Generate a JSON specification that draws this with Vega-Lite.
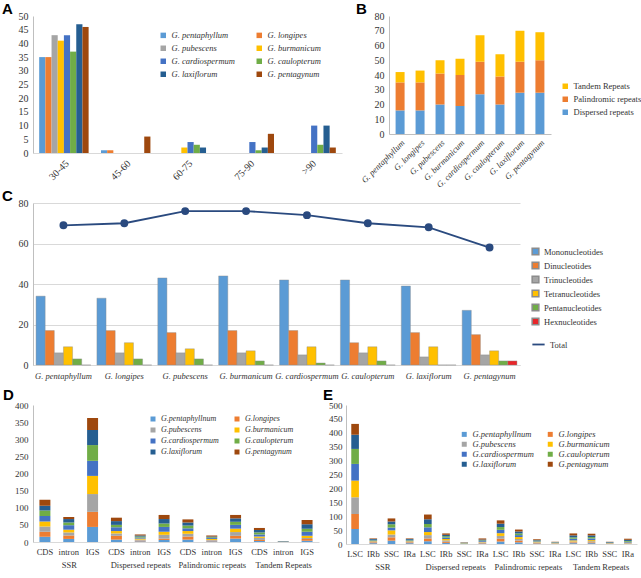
{
"$schema":"https://vega.github.io/schema/vega-lite/v6.json",
"padding":{"left":2,"top":2,"right":0,"bottom":0},
"background":"white",
"config":{
 "view":{"stroke":null},
 "font":"Liberation Serif",
 "axis":{"labelFont":"Liberation Serif","labelFontSize":10,"labelColor":"#333333","domainColor":"#bfbfbf","tickColor":"#bfbfbf","grid":false,"labelOverlap":false},
 "legend":{"labelFont":"Liberation Serif","labelFontSize":8.5,"labelColor":"#333333"},
 "title":{"font":"Liberation Sans","fontSize":15,"fontWeight":"bold","anchor":"start","frame":"bounds","color":"#000000","offset":-6}
},
"datasets":{
 "A":[
  {"r":"30-45","s":"G. pentaphyllum","n":35},{"r":"30-45","s":"G. longipes","n":35},{"r":"30-45","s":"G. pubescens","n":43},{"r":"30-45","s":"G. burmanicum","n":41},{"r":"30-45","s":"G. cardiospermum","n":43},{"r":"30-45","s":"G. caulopterum","n":37},{"r":"30-45","s":"G. laxiflorum","n":47},{"r":"30-45","s":"G. pentagynum","n":46},
  {"r":"45-60","s":"G. pentaphyllum","n":1},{"r":"45-60","s":"G. longipes","n":1},{"r":"45-60","s":"G. pubescens","n":0},{"r":"45-60","s":"G. burmanicum","n":0},{"r":"45-60","s":"G. cardiospermum","n":0},{"r":"45-60","s":"G. caulopterum","n":0},{"r":"45-60","s":"G. laxiflorum","n":0},{"r":"45-60","s":"G. pentagynum","n":6},
  {"r":"60-75","s":"G. pentaphyllum","n":0},{"r":"60-75","s":"G. longipes","n":0},{"r":"60-75","s":"G. pubescens","n":0},{"r":"60-75","s":"G. burmanicum","n":2},{"r":"60-75","s":"G. cardiospermum","n":4},{"r":"60-75","s":"G. caulopterum","n":3},{"r":"60-75","s":"G. laxiflorum","n":2},{"r":"60-75","s":"G. pentagynum","n":0},
  {"r":"75-90","s":"G. pentaphyllum","n":0},{"r":"75-90","s":"G. longipes","n":0},{"r":"75-90","s":"G. pubescens","n":0},{"r":"75-90","s":"G. burmanicum","n":0},{"r":"75-90","s":"G. cardiospermum","n":4},{"r":"75-90","s":"G. caulopterum","n":1},{"r":"75-90","s":"G. laxiflorum","n":2},{"r":"75-90","s":"G. pentagynum","n":7},
  {"r":">90","s":"G. pentaphyllum","n":0},{"r":">90","s":"G. longipes","n":0},{"r":">90","s":"G. pubescens","n":0},{"r":">90","s":"G. burmanicum","n":0},{"r":">90","s":"G. cardiospermum","n":10},{"r":">90","s":"G. caulopterum","n":3},{"r":">90","s":"G. laxiflorum","n":10},{"r":">90","s":"G. pentagynum","n":2}
 ],
 "B":[
  {"s":"G. pentaphyllum","t":"Dispersed repeats","o":1,"n":16},{"s":"G. pentaphyllum","t":"Palindromic repeats","o":2,"n":19},{"s":"G. pentaphyllum","t":"Tandem Repeats","o":3,"n":7},
  {"s":"G. longipes","t":"Dispersed repeats","o":1,"n":16},{"s":"G. longipes","t":"Palindromic repeats","o":2,"n":19},{"s":"G. longipes","t":"Tandem Repeats","o":3,"n":8},
  {"s":"G. pubescens","t":"Dispersed repeats","o":1,"n":20},{"s":"G. pubescens","t":"Palindromic repeats","o":2,"n":21},{"s":"G. pubescens","t":"Tandem Repeats","o":3,"n":9},
  {"s":"G. burmanicum","t":"Dispersed repeats","o":1,"n":19},{"s":"G. burmanicum","t":"Palindromic repeats","o":2,"n":21},{"s":"G. burmanicum","t":"Tandem Repeats","o":3,"n":11},
  {"s":"G. cardiospermum","t":"Dispersed repeats","o":1,"n":27},{"s":"G. cardiospermum","t":"Palindromic repeats","o":2,"n":22},{"s":"G. cardiospermum","t":"Tandem Repeats","o":3,"n":18},
  {"s":"G. caulopterum","t":"Dispersed repeats","o":1,"n":20},{"s":"G. caulopterum","t":"Palindromic repeats","o":2,"n":19},{"s":"G. caulopterum","t":"Tandem Repeats","o":3,"n":15},
  {"s":"G. laxiflorum","t":"Dispersed repeats","o":1,"n":28},{"s":"G. laxiflorum","t":"Palindromic repeats","o":2,"n":21},{"s":"G. laxiflorum","t":"Tandem Repeats","o":3,"n":21},
  {"s":"G. pentagynum","t":"Dispersed repeats","o":1,"n":28},{"s":"G. pentagynum","t":"Palindromic repeats","o":2,"n":22},{"s":"G. pentagynum","t":"Tandem Repeats","o":3,"n":19}
 ],
 "C":[
  {"s":"G. pentaphyllum","m":"Mononucleotides","n":34},{"s":"G. pentaphyllum","m":"Dinucleotides","n":17},{"s":"G. pentaphyllum","m":"Trinucleotides","n":6},{"s":"G. pentaphyllum","m":"Tetranucleotides","n":9},{"s":"G. pentaphyllum","m":"Pentanucleotides","n":3},{"s":"G. pentaphyllum","m":"Hexnucleotides","n":0},
  {"s":"G. longipes","m":"Mononucleotides","n":33},{"s":"G. longipes","m":"Dinucleotides","n":17},{"s":"G. longipes","m":"Trinucleotides","n":6},{"s":"G. longipes","m":"Tetranucleotides","n":11},{"s":"G. longipes","m":"Pentanucleotides","n":3},{"s":"G. longipes","m":"Hexnucleotides","n":0},
  {"s":"G. pubescens","m":"Mononucleotides","n":43},{"s":"G. pubescens","m":"Dinucleotides","n":16},{"s":"G. pubescens","m":"Trinucleotides","n":6},{"s":"G. pubescens","m":"Tetranucleotides","n":8},{"s":"G. pubescens","m":"Pentanucleotides","n":3},{"s":"G. pubescens","m":"Hexnucleotides","n":0},
  {"s":"G. burmanicum","m":"Mononucleotides","n":44},{"s":"G. burmanicum","m":"Dinucleotides","n":17},{"s":"G. burmanicum","m":"Trinucleotides","n":6},{"s":"G. burmanicum","m":"Tetranucleotides","n":7},{"s":"G. burmanicum","m":"Pentanucleotides","n":2},{"s":"G. burmanicum","m":"Hexnucleotides","n":0},
  {"s":"G. cardiospermum","m":"Mononucleotides","n":42},{"s":"G. cardiospermum","m":"Dinucleotides","n":17},{"s":"G. cardiospermum","m":"Trinucleotides","n":5},{"s":"G. cardiospermum","m":"Tetranucleotides","n":9},{"s":"G. cardiospermum","m":"Pentanucleotides","n":1},{"s":"G. cardiospermum","m":"Hexnucleotides","n":0},
  {"s":"G. caulopterum","m":"Mononucleotides","n":42},{"s":"G. caulopterum","m":"Dinucleotides","n":11},{"s":"G. caulopterum","m":"Trinucleotides","n":6},{"s":"G. caulopterum","m":"Tetranucleotides","n":9},{"s":"G. caulopterum","m":"Pentanucleotides","n":2},{"s":"G. caulopterum","m":"Hexnucleotides","n":0},
  {"s":"G. laxiflorum","m":"Mononucleotides","n":39},{"s":"G. laxiflorum","m":"Dinucleotides","n":16},{"s":"G. laxiflorum","m":"Trinucleotides","n":4},{"s":"G. laxiflorum","m":"Tetranucleotides","n":9},{"s":"G. laxiflorum","m":"Pentanucleotides","n":0},{"s":"G. laxiflorum","m":"Hexnucleotides","n":0},
  {"s":"G. pentagynum","m":"Mononucleotides","n":27},{"s":"G. pentagynum","m":"Dinucleotides","n":15},{"s":"G. pentagynum","m":"Trinucleotides","n":5},{"s":"G. pentagynum","m":"Tetranucleotides","n":7},{"s":"G. pentagynum","m":"Pentanucleotides","n":2},{"s":"G. pentagynum","m":"Hexnucleotides","n":2}
 ],
 "CT":[
  {"s":"G. pentaphyllum","series":"Total","total":69},{"s":"G. longipes","series":"Total","total":70},{"s":"G. pubescens","series":"Total","total":76},{"s":"G. burmanicum","series":"Total","total":76},{"s":"G. cardiospermum","series":"Total","total":74},{"s":"G. caulopterum","series":"Total","total":70},{"s":"G. laxiflorum","series":"Total","total":68},{"s":"G. pentagynum","series":"Total","total":58}
 ],
 "D":[
  {"g":"SSR","k":"SSR|CDS","s":"G.pentaphyllnum","o":1,"n":15},{"g":"SSR","k":"SSR|CDS","s":"G.longipes","o":2,"n":15},{"g":"SSR","k":"SSR|CDS","s":"G.pubescens","o":3,"n":15},{"g":"SSR","k":"SSR|CDS","s":"G.burmanicum","o":4,"n":15},{"g":"SSR","k":"SSR|CDS","s":"G.cardiospermum","o":5,"n":16},{"g":"SSR","k":"SSR|CDS","s":"G.caulopterum","o":6,"n":16},{"g":"SSR","k":"SSR|CDS","s":"G.laxiflorum","o":7,"n":14},{"g":"SSR","k":"SSR|CDS","s":"G.pentagynum","o":8,"n":17},
  {"g":"SSR","k":"SSR|intron","s":"G.pentaphyllnum","o":1,"n":9},{"g":"SSR","k":"SSR|intron","s":"G.longipes","o":2,"n":10},{"g":"SSR","k":"SSR|intron","s":"G.pubescens","o":3,"n":9},{"g":"SSR","k":"SSR|intron","s":"G.burmanicum","o":4,"n":8},{"g":"SSR","k":"SSR|intron","s":"G.cardiospermum","o":5,"n":13},{"g":"SSR","k":"SSR|intron","s":"G.caulopterum","o":6,"n":8},{"g":"SSR","k":"SSR|intron","s":"G.laxiflorum","o":7,"n":10},{"g":"SSR","k":"SSR|intron","s":"G.pentagynum","o":8,"n":6},
  {"g":"SSR","k":"SSR|IGS","s":"G.pentaphyllnum","o":1,"n":44},{"g":"SSR","k":"SSR|IGS","s":"G.longipes","o":2,"n":44},{"g":"SSR","k":"SSR|IGS","s":"G.pubescens","o":3,"n":52},{"g":"SSR","k":"SSR|IGS","s":"G.burmanicum","o":4,"n":53},{"g":"SSR","k":"SSR|IGS","s":"G.cardiospermum","o":5,"n":44},{"g":"SSR","k":"SSR|IGS","s":"G.caulopterum","o":6,"n":46},{"g":"SSR","k":"SSR|IGS","s":"G.laxiflorum","o":7,"n":44},{"g":"SSR","k":"SSR|IGS","s":"G.pentagynum","o":8,"n":35},
  {"g":"Dispersed repeats","k":"Dispersed repeats|CDS","s":"G.pentaphyllnum","o":1,"n":7},{"g":"Dispersed repeats","k":"Dispersed repeats|CDS","s":"G.longipes","o":2,"n":11},{"g":"Dispersed repeats","k":"Dispersed repeats|CDS","s":"G.pubescens","o":3,"n":7},{"g":"Dispersed repeats","k":"Dispersed repeats|CDS","s":"G.burmanicum","o":4,"n":7},{"g":"Dispersed repeats","k":"Dispersed repeats|CDS","s":"G.cardiospermum","o":5,"n":11},{"g":"Dispersed repeats","k":"Dispersed repeats|CDS","s":"G.caulopterum","o":6,"n":7},{"g":"Dispersed repeats","k":"Dispersed repeats|CDS","s":"G.laxiflorum","o":7,"n":11},{"g":"Dispersed repeats","k":"Dispersed repeats|CDS","s":"G.pentagynum","o":8,"n":10},
  {"g":"Dispersed repeats","k":"Dispersed repeats|intron","s":"G.pentaphyllnum","o":1,"n":2},{"g":"Dispersed repeats","k":"Dispersed repeats|intron","s":"G.longipes","o":2,"n":2},{"g":"Dispersed repeats","k":"Dispersed repeats|intron","s":"G.pubescens","o":3,"n":3},{"g":"Dispersed repeats","k":"Dispersed repeats|intron","s":"G.burmanicum","o":4,"n":3},{"g":"Dispersed repeats","k":"Dispersed repeats|intron","s":"G.cardiospermum","o":5,"n":3},{"g":"Dispersed repeats","k":"Dispersed repeats|intron","s":"G.caulopterum","o":6,"n":3},{"g":"Dispersed repeats","k":"Dispersed repeats|intron","s":"G.laxiflorum","o":7,"n":3},{"g":"Dispersed repeats","k":"Dispersed repeats|intron","s":"G.pentagynum","o":8,"n":3},
  {"g":"Dispersed repeats","k":"Dispersed repeats|IGS","s":"G.pentaphyllnum","o":1,"n":6},{"g":"Dispersed repeats","k":"Dispersed repeats|IGS","s":"G.longipes","o":2,"n":4},{"g":"Dispersed repeats","k":"Dispersed repeats|IGS","s":"G.pubescens","o":3,"n":11},{"g":"Dispersed repeats","k":"Dispersed repeats|IGS","s":"G.burmanicum","o":4,"n":9},{"g":"Dispersed repeats","k":"Dispersed repeats|IGS","s":"G.cardiospermum","o":5,"n":14},{"g":"Dispersed repeats","k":"Dispersed repeats|IGS","s":"G.caulopterum","o":6,"n":10},{"g":"Dispersed repeats","k":"Dispersed repeats|IGS","s":"G.laxiflorum","o":7,"n":13},{"g":"Dispersed repeats","k":"Dispersed repeats|IGS","s":"G.pentagynum","o":8,"n":12},
  {"g":"Palindromic repeats","k":"Palindromic repeats|CDS","s":"G.pentaphyllnum","o":1,"n":7},{"g":"Palindromic repeats","k":"Palindromic repeats|CDS","s":"G.longipes","o":2,"n":9},{"g":"Palindromic repeats","k":"Palindromic repeats|CDS","s":"G.pubescens","o":3,"n":8},{"g":"Palindromic repeats","k":"Palindromic repeats|CDS","s":"G.burmanicum","o":4,"n":8},{"g":"Palindromic repeats","k":"Palindromic repeats|CDS","s":"G.cardiospermum","o":5,"n":8},{"g":"Palindromic repeats","k":"Palindromic repeats|CDS","s":"G.caulopterum","o":6,"n":8},{"g":"Palindromic repeats","k":"Palindromic repeats|CDS","s":"G.laxiflorum","o":7,"n":9},{"g":"Palindromic repeats","k":"Palindromic repeats|CDS","s":"G.pentagynum","o":8,"n":9},
  {"g":"Palindromic repeats","k":"Palindromic repeats|intron","s":"G.pentaphyllnum","o":1,"n":2},{"g":"Palindromic repeats","k":"Palindromic repeats|intron","s":"G.longipes","o":2,"n":2},{"g":"Palindromic repeats","k":"Palindromic repeats|intron","s":"G.pubescens","o":3,"n":2},{"g":"Palindromic repeats","k":"Palindromic repeats|intron","s":"G.burmanicum","o":4,"n":3},{"g":"Palindromic repeats","k":"Palindromic repeats|intron","s":"G.cardiospermum","o":5,"n":3},{"g":"Palindromic repeats","k":"Palindromic repeats|intron","s":"G.caulopterum","o":6,"n":2},{"g":"Palindromic repeats","k":"Palindromic repeats|intron","s":"G.laxiflorum","o":7,"n":2},{"g":"Palindromic repeats","k":"Palindromic repeats|intron","s":"G.pentagynum","o":8,"n":3},
  {"g":"Palindromic repeats","k":"Palindromic repeats|IGS","s":"G.pentaphyllnum","o":1,"n":10},{"g":"Palindromic repeats","k":"Palindromic repeats|IGS","s":"G.longipes","o":2,"n":8},{"g":"Palindromic repeats","k":"Palindromic repeats|IGS","s":"G.pubescens","o":3,"n":11},{"g":"Palindromic repeats","k":"Palindromic repeats|IGS","s":"G.burmanicum","o":4,"n":10},{"g":"Palindromic repeats","k":"Palindromic repeats|IGS","s":"G.cardiospermum","o":5,"n":11},{"g":"Palindromic repeats","k":"Palindromic repeats|IGS","s":"G.caulopterum","o":6,"n":9},{"g":"Palindromic repeats","k":"Palindromic repeats|IGS","s":"G.laxiflorum","o":7,"n":10},{"g":"Palindromic repeats","k":"Palindromic repeats|IGS","s":"G.pentagynum","o":8,"n":10},
  {"g":"Tandem Repeats","k":"Tandem Repeats|CDS","s":"G.pentaphyllnum","o":1,"n":3},{"g":"Tandem Repeats","k":"Tandem Repeats|CDS","s":"G.longipes","o":2,"n":3},{"g":"Tandem Repeats","k":"Tandem Repeats|CDS","s":"G.pubescens","o":3,"n":6},{"g":"Tandem Repeats","k":"Tandem Repeats|CDS","s":"G.burmanicum","o":4,"n":4},{"g":"Tandem Repeats","k":"Tandem Repeats|CDS","s":"G.cardiospermum","o":5,"n":6},{"g":"Tandem Repeats","k":"Tandem Repeats|CDS","s":"G.caulopterum","o":6,"n":6},{"g":"Tandem Repeats","k":"Tandem Repeats|CDS","s":"G.laxiflorum","o":7,"n":7},{"g":"Tandem Repeats","k":"Tandem Repeats|CDS","s":"G.pentagynum","o":8,"n":6},
  {"g":"Tandem Repeats","k":"Tandem Repeats|intron","s":"G.pentaphyllnum","o":1,"n":0},{"g":"Tandem Repeats","k":"Tandem Repeats|intron","s":"G.longipes","o":2,"n":0},{"g":"Tandem Repeats","k":"Tandem Repeats|intron","s":"G.pubescens","o":3,"n":0},{"g":"Tandem Repeats","k":"Tandem Repeats|intron","s":"G.burmanicum","o":4,"n":1},{"g":"Tandem Repeats","k":"Tandem Repeats|intron","s":"G.cardiospermum","o":5,"n":1},{"g":"Tandem Repeats","k":"Tandem Repeats|intron","s":"G.caulopterum","o":6,"n":0},{"g":"Tandem Repeats","k":"Tandem Repeats|intron","s":"G.laxiflorum","o":7,"n":1},{"g":"Tandem Repeats","k":"Tandem Repeats|intron","s":"G.pentagynum","o":8,"n":0},
  {"g":"Tandem Repeats","k":"Tandem Repeats|IGS","s":"G.pentaphyllnum","o":1,"n":4},{"g":"Tandem Repeats","k":"Tandem Repeats|IGS","s":"G.longipes","o":2,"n":5},{"g":"Tandem Repeats","k":"Tandem Repeats|IGS","s":"G.pubescens","o":3,"n":3},{"g":"Tandem Repeats","k":"Tandem Repeats|IGS","s":"G.burmanicum","o":4,"n":6},{"g":"Tandem Repeats","k":"Tandem Repeats|IGS","s":"G.cardiospermum","o":5,"n":12},{"g":"Tandem Repeats","k":"Tandem Repeats|IGS","s":"G.caulopterum","o":6,"n":9},{"g":"Tandem Repeats","k":"Tandem Repeats|IGS","s":"G.laxiflorum","o":7,"n":13},{"g":"Tandem Repeats","k":"Tandem Repeats|IGS","s":"G.pentagynum","o":8,"n":12}
 ],
 "E":[
  {"g":"SSR","k":"SSR|LSC","s":"G.pentaphyllnum","o":1,"n":54},{"g":"SSR","k":"SSR|LSC","s":"G.longipes","o":2,"n":54},{"g":"SSR","k":"SSR|LSC","s":"G.pubescens","o":3,"n":60},{"g":"SSR","k":"SSR|LSC","s":"G.burmanicum","o":4,"n":60},{"g":"SSR","k":"SSR|LSC","s":"G.cardiospermum","o":5,"n":60},{"g":"SSR","k":"SSR|LSC","s":"G.caulopterum","o":6,"n":54},{"g":"SSR","k":"SSR|LSC","s":"G.laxiflorum","o":7,"n":51},{"g":"SSR","k":"SSR|LSC","s":"G.pentagynum","o":8,"n":39},
  {"g":"SSR","k":"SSR|IRb","s":"G.pentaphyllnum","o":1,"n":3},{"g":"SSR","k":"SSR|IRb","s":"G.longipes","o":2,"n":3},{"g":"SSR","k":"SSR|IRb","s":"G.pubescens","o":3,"n":2},{"g":"SSR","k":"SSR|IRb","s":"G.burmanicum","o":4,"n":2},{"g":"SSR","k":"SSR|IRb","s":"G.cardiospermum","o":5,"n":3},{"g":"SSR","k":"SSR|IRb","s":"G.caulopterum","o":6,"n":2},{"g":"SSR","k":"SSR|IRb","s":"G.laxiflorum","o":7,"n":3},{"g":"SSR","k":"SSR|IRb","s":"G.pentagynum","o":8,"n":2},
  {"g":"SSR","k":"SSR|SSC","s":"G.pentaphyllnum","o":1,"n":12},{"g":"SSR","k":"SSR|SSC","s":"G.longipes","o":2,"n":12},{"g":"SSR","k":"SSR|SSC","s":"G.pubescens","o":3,"n":10},{"g":"SSR","k":"SSR|SSC","s":"G.burmanicum","o":4,"n":15},{"g":"SSR","k":"SSR|SSC","s":"G.cardiospermum","o":5,"n":10},{"g":"SSR","k":"SSR|SSC","s":"G.caulopterum","o":6,"n":12},{"g":"SSR","k":"SSR|SSC","s":"G.laxiflorum","o":7,"n":10},{"g":"SSR","k":"SSR|SSC","s":"G.pentagynum","o":8,"n":11},
  {"g":"SSR","k":"SSR|IRa","s":"G.pentaphyllnum","o":1,"n":3},{"g":"SSR","k":"SSR|IRa","s":"G.longipes","o":2,"n":3},{"g":"SSR","k":"SSR|IRa","s":"G.pubescens","o":3,"n":2},{"g":"SSR","k":"SSR|IRa","s":"G.burmanicum","o":4,"n":2},{"g":"SSR","k":"SSR|IRa","s":"G.cardiospermum","o":5,"n":3},{"g":"SSR","k":"SSR|IRa","s":"G.caulopterum","o":6,"n":2},{"g":"SSR","k":"SSR|IRa","s":"G.laxiflorum","o":7,"n":3},{"g":"SSR","k":"SSR|IRa","s":"G.pentagynum","o":8,"n":2},
  {"g":"Dispersed repeats","k":"Dispersed repeats|LSC","s":"G.pentaphyllnum","o":1,"n":10},{"g":"Dispersed repeats","k":"Dispersed repeats|LSC","s":"G.longipes","o":2,"n":10},{"g":"Dispersed repeats","k":"Dispersed repeats|LSC","s":"G.pubescens","o":3,"n":12},{"g":"Dispersed repeats","k":"Dispersed repeats|LSC","s":"G.burmanicum","o":4,"n":11},{"g":"Dispersed repeats","k":"Dispersed repeats|LSC","s":"G.cardiospermum","o":5,"n":17},{"g":"Dispersed repeats","k":"Dispersed repeats|LSC","s":"G.caulopterum","o":6,"n":12},{"g":"Dispersed repeats","k":"Dispersed repeats|LSC","s":"G.laxiflorum","o":7,"n":17},{"g":"Dispersed repeats","k":"Dispersed repeats|LSC","s":"G.pentagynum","o":8,"n":17},
  {"g":"Dispersed repeats","k":"Dispersed repeats|IRb","s":"G.pentaphyllnum","o":1,"n":4},{"g":"Dispersed repeats","k":"Dispersed repeats|IRb","s":"G.longipes","o":2,"n":4},{"g":"Dispersed repeats","k":"Dispersed repeats|IRb","s":"G.pubescens","o":3,"n":5},{"g":"Dispersed repeats","k":"Dispersed repeats|IRb","s":"G.burmanicum","o":4,"n":5},{"g":"Dispersed repeats","k":"Dispersed repeats|IRb","s":"G.cardiospermum","o":5,"n":5},{"g":"Dispersed repeats","k":"Dispersed repeats|IRb","s":"G.caulopterum","o":6,"n":5},{"g":"Dispersed repeats","k":"Dispersed repeats|IRb","s":"G.laxiflorum","o":7,"n":5},{"g":"Dispersed repeats","k":"Dispersed repeats|IRb","s":"G.pentagynum","o":8,"n":5},
  {"g":"Dispersed repeats","k":"Dispersed repeats|SSC","s":"G.pentaphyllnum","o":1,"n":0},{"g":"Dispersed repeats","k":"Dispersed repeats|SSC","s":"G.longipes","o":2,"n":0},{"g":"Dispersed repeats","k":"Dispersed repeats|SSC","s":"G.pubescens","o":3,"n":1},{"g":"Dispersed repeats","k":"Dispersed repeats|SSC","s":"G.burmanicum","o":4,"n":1},{"g":"Dispersed repeats","k":"Dispersed repeats|SSC","s":"G.cardiospermum","o":5,"n":1},{"g":"Dispersed repeats","k":"Dispersed repeats|SSC","s":"G.caulopterum","o":6,"n":1},{"g":"Dispersed repeats","k":"Dispersed repeats|SSC","s":"G.laxiflorum","o":7,"n":1},{"g":"Dispersed repeats","k":"Dispersed repeats|SSC","s":"G.pentagynum","o":8,"n":1},
  {"g":"Dispersed repeats","k":"Dispersed repeats|IRa","s":"G.pentaphyllnum","o":1,"n":2},{"g":"Dispersed repeats","k":"Dispersed repeats|IRa","s":"G.longipes","o":2,"n":2},{"g":"Dispersed repeats","k":"Dispersed repeats|IRa","s":"G.pubescens","o":3,"n":2},{"g":"Dispersed repeats","k":"Dispersed repeats|IRa","s":"G.burmanicum","o":4,"n":2},{"g":"Dispersed repeats","k":"Dispersed repeats|IRa","s":"G.cardiospermum","o":5,"n":3},{"g":"Dispersed repeats","k":"Dispersed repeats|IRa","s":"G.caulopterum","o":6,"n":2},{"g":"Dispersed repeats","k":"Dispersed repeats|IRa","s":"G.laxiflorum","o":7,"n":3},{"g":"Dispersed repeats","k":"Dispersed repeats|IRa","s":"G.pentagynum","o":8,"n":4},
  {"g":"Palindromic repeats","k":"Palindromic repeats|LSC","s":"G.pentaphyllnum","o":1,"n":9},{"g":"Palindromic repeats","k":"Palindromic repeats|LSC","s":"G.longipes","o":2,"n":10},{"g":"Palindromic repeats","k":"Palindromic repeats|LSC","s":"G.pubescens","o":3,"n":10},{"g":"Palindromic repeats","k":"Palindromic repeats|LSC","s":"G.burmanicum","o":4,"n":10},{"g":"Palindromic repeats","k":"Palindromic repeats|LSC","s":"G.cardiospermum","o":5,"n":12},{"g":"Palindromic repeats","k":"Palindromic repeats|LSC","s":"G.caulopterum","o":6,"n":10},{"g":"Palindromic repeats","k":"Palindromic repeats|LSC","s":"G.laxiflorum","o":7,"n":12},{"g":"Palindromic repeats","k":"Palindromic repeats|LSC","s":"G.pentagynum","o":8,"n":12},
  {"g":"Palindromic repeats","k":"Palindromic repeats|IRb","s":"G.pentaphyllnum","o":1,"n":6},{"g":"Palindromic repeats","k":"Palindromic repeats|IRb","s":"G.longipes","o":2,"n":6},{"g":"Palindromic repeats","k":"Palindromic repeats|IRb","s":"G.pubescens","o":3,"n":6},{"g":"Palindromic repeats","k":"Palindromic repeats|IRb","s":"G.burmanicum","o":4,"n":7},{"g":"Palindromic repeats","k":"Palindromic repeats|IRb","s":"G.cardiospermum","o":5,"n":7},{"g":"Palindromic repeats","k":"Palindromic repeats|IRb","s":"G.caulopterum","o":6,"n":6},{"g":"Palindromic repeats","k":"Palindromic repeats|IRb","s":"G.laxiflorum","o":7,"n":7},{"g":"Palindromic repeats","k":"Palindromic repeats|IRb","s":"G.pentagynum","o":8,"n":7},
  {"g":"Palindromic repeats","k":"Palindromic repeats|SSC","s":"G.pentaphyllnum","o":1,"n":2},{"g":"Palindromic repeats","k":"Palindromic repeats|SSC","s":"G.longipes","o":2,"n":2},{"g":"Palindromic repeats","k":"Palindromic repeats|SSC","s":"G.pubescens","o":3,"n":2},{"g":"Palindromic repeats","k":"Palindromic repeats|SSC","s":"G.burmanicum","o":4,"n":2},{"g":"Palindromic repeats","k":"Palindromic repeats|SSC","s":"G.cardiospermum","o":5,"n":2},{"g":"Palindromic repeats","k":"Palindromic repeats|SSC","s":"G.caulopterum","o":6,"n":2},{"g":"Palindromic repeats","k":"Palindromic repeats|SSC","s":"G.laxiflorum","o":7,"n":2},{"g":"Palindromic repeats","k":"Palindromic repeats|SSC","s":"G.pentagynum","o":8,"n":3},
  {"g":"Palindromic repeats","k":"Palindromic repeats|IRa","s":"G.pentaphyllnum","o":1,"n":1},{"g":"Palindromic repeats","k":"Palindromic repeats|IRa","s":"G.longipes","o":2,"n":1},{"g":"Palindromic repeats","k":"Palindromic repeats|IRa","s":"G.pubescens","o":3,"n":1},{"g":"Palindromic repeats","k":"Palindromic repeats|IRa","s":"G.burmanicum","o":4,"n":1},{"g":"Palindromic repeats","k":"Palindromic repeats|IRa","s":"G.cardiospermum","o":5,"n":1},{"g":"Palindromic repeats","k":"Palindromic repeats|IRa","s":"G.caulopterum","o":6,"n":1},{"g":"Palindromic repeats","k":"Palindromic repeats|IRa","s":"G.laxiflorum","o":7,"n":1},{"g":"Palindromic repeats","k":"Palindromic repeats|IRa","s":"G.pentagynum","o":8,"n":1},
  {"g":"Tandem Repeats","k":"Tandem Repeats|LSC","s":"G.pentaphyllnum","o":1,"n":3},{"g":"Tandem Repeats","k":"Tandem Repeats|LSC","s":"G.longipes","o":2,"n":3},{"g":"Tandem Repeats","k":"Tandem Repeats|LSC","s":"G.pubescens","o":3,"n":3},{"g":"Tandem Repeats","k":"Tandem Repeats|LSC","s":"G.burmanicum","o":4,"n":4},{"g":"Tandem Repeats","k":"Tandem Repeats|LSC","s":"G.cardiospermum","o":5,"n":6},{"g":"Tandem Repeats","k":"Tandem Repeats|LSC","s":"G.caulopterum","o":6,"n":5},{"g":"Tandem Repeats","k":"Tandem Repeats|LSC","s":"G.laxiflorum","o":7,"n":7},{"g":"Tandem Repeats","k":"Tandem Repeats|LSC","s":"G.pentagynum","o":8,"n":7},
  {"g":"Tandem Repeats","k":"Tandem Repeats|IRb","s":"G.pentaphyllnum","o":1,"n":3},{"g":"Tandem Repeats","k":"Tandem Repeats|IRb","s":"G.longipes","o":2,"n":3},{"g":"Tandem Repeats","k":"Tandem Repeats|IRb","s":"G.pubescens","o":3,"n":4},{"g":"Tandem Repeats","k":"Tandem Repeats|IRb","s":"G.burmanicum","o":4,"n":4},{"g":"Tandem Repeats","k":"Tandem Repeats|IRb","s":"G.cardiospermum","o":5,"n":6},{"g":"Tandem Repeats","k":"Tandem Repeats|IRb","s":"G.caulopterum","o":6,"n":5},{"g":"Tandem Repeats","k":"Tandem Repeats|IRb","s":"G.laxiflorum","o":7,"n":6},{"g":"Tandem Repeats","k":"Tandem Repeats|IRb","s":"G.pentagynum","o":8,"n":6},
  {"g":"Tandem Repeats","k":"Tandem Repeats|SSC","s":"G.pentaphyllnum","o":1,"n":0},{"g":"Tandem Repeats","k":"Tandem Repeats|SSC","s":"G.longipes","o":2,"n":1},{"g":"Tandem Repeats","k":"Tandem Repeats|SSC","s":"G.pubescens","o":3,"n":1},{"g":"Tandem Repeats","k":"Tandem Repeats|SSC","s":"G.burmanicum","o":4,"n":1},{"g":"Tandem Repeats","k":"Tandem Repeats|SSC","s":"G.cardiospermum","o":5,"n":1},{"g":"Tandem Repeats","k":"Tandem Repeats|SSC","s":"G.caulopterum","o":6,"n":1},{"g":"Tandem Repeats","k":"Tandem Repeats|SSC","s":"G.laxiflorum","o":7,"n":2},{"g":"Tandem Repeats","k":"Tandem Repeats|SSC","s":"G.pentagynum","o":8,"n":1},
  {"g":"Tandem Repeats","k":"Tandem Repeats|IRa","s":"G.pentaphyllnum","o":1,"n":1},{"g":"Tandem Repeats","k":"Tandem Repeats|IRa","s":"G.longipes","o":2,"n":1},{"g":"Tandem Repeats","k":"Tandem Repeats|IRa","s":"G.pubescens","o":3,"n":1},{"g":"Tandem Repeats","k":"Tandem Repeats|IRa","s":"G.burmanicum","o":4,"n":2},{"g":"Tandem Repeats","k":"Tandem Repeats|IRa","s":"G.cardiospermum","o":5,"n":3},{"g":"Tandem Repeats","k":"Tandem Repeats|IRa","s":"G.caulopterum","o":6,"n":3},{"g":"Tandem Repeats","k":"Tandem Repeats|IRa","s":"G.laxiflorum","o":7,"n":4},{"g":"Tandem Repeats","k":"Tandem Repeats|IRa","s":"G.pentagynum","o":8,"n":4}
 ]
},
"vconcat":[
 {"hconcat":[
  {"data":{"name":"A"},"width":309,"height":137,
   "title":{"text":"A"},
   "mark":{"type":"bar"},
   "encoding":{
    "x":{"field":"r","type":"nominal","sort":["30-45","45-60","60-75","75-90",">90"],"scale":{"paddingInner":0.2,"paddingOuter":0.1},
      "axis":{"title":null,"labelAngle":-45,"ticks":false,"labelPadding":5,"labelFontSize":10,"domainColor":"#d9d9d9"}},
    "xOffset":{"field":"s","type":"nominal","sort":["G. pentaphyllum","G. longipes","G. pubescens","G. burmanicum","G. cardiospermum","G. caulopterum","G. laxiflorum","G. pentagynum"]},
    "y":{"field":"n","type":"quantitative","scale":{"domain":[0,50]},
      "axis":{"title":null,"values":[0,5,10,15,20,25,30,35,40,45,50],"ticks":false,"labelPadding":5,"minExtent":31,"maxExtent":31}},
    "color":{"field":"s","type":"nominal",
      "scale":{"domain":["G. pentaphyllum","G. longipes","G. pubescens","G. burmanicum","G. cardiospermum","G. caulopterum","G. laxiflorum","G. pentagynum"],"range":["#5B9BD5","#ED7D31","#A5A5A5","#FFC000","#4472C4","#70AD47","#255E91","#9E480E"]},
      "legend":{"title":null,"values":["G. pentaphyllum","G. pubescens","G. cardiospermum","G. laxiflorum","G. longipes","G. burmanicum","G. caulopterum","G. pentagynum"],"orient":"none","legendX":126,"legendY":15,"columns":2,"columnPadding":20,"rowPadding":4,"symbolType":"square","symbolSize":30,"labelFontStyle":"italic","labelFontSize":8.5}}
   }},
  {"data":{"name":"B"},"width":162,"height":118,
   "title":{"text":"B"},
   "mark":{"type":"bar"},
   "encoding":{
    "x":{"field":"s","type":"nominal","sort":["G. pentaphyllum","G. longipes","G. pubescens","G. burmanicum","G. cardiospermum","G. caulopterum","G. laxiflorum","G. pentagynum"],"scale":{"paddingInner":0.55,"paddingOuter":0.33},
      "axis":{"title":null,"labelAngle":-45,"ticks":false,"labelPadding":4,"labelFontStyle":"italic","labelFontSize":8.5}},
    "y":{"field":"n","type":"quantitative","scale":{"domain":[0,80]},
      "axis":{"title":null,"values":[0,10,20,30,40,50,60,70,80],"ticks":false,"labelPadding":5,"minExtent":33,"maxExtent":33}},
    "order":{"field":"o","type":"quantitative","sort":"ascending"},
    "color":{"field":"t","type":"nominal",
      "scale":{"domain":["Dispersed repeats","Palindromic repeats","Tandem Repeats"],"range":["#5B9BD5","#ED7D31","#FFC000"]},
      "legend":{"title":null,"values":["Tandem Repeats","Palindromic repeats","Dispersed repeats"],"orient":"none","legendX":172,"legendY":66,"symbolType":"square","symbolSize":30,"rowPadding":4,"labelFontSize":8.5}}
   }}
  ],
  "spacing":14,
  "resolve":{"scale":{"color":"independent","xOffset":"independent"},"legend":{"color":"independent"}}
 },
 {"vconcat":[
  {"width":487,"height":162,
   "title":{"text":"C"},
   "layer":[
    {"data":{"name":"C"},
     "mark":{"type":"bar","stroke":"#8c8c8c","strokeWidth":0.4},
     "encoding":{
      "x":{"field":"s","type":"nominal","sort":["G. pentaphyllum","G. longipes","G. pubescens","G. burmanicum","G. cardiospermum","G. caulopterum","G. laxiflorum","G. pentagynum"],"scale":{"paddingInner":0.1,"paddingOuter":0.05},
        "axis":{"title":null,"labelAngle":0,"ticks":false,"labelPadding":6,"labelFontStyle":"italic","labelFontSize":8.5,"domainColor":"#d9d9d9"}},
      "xOffset":{"field":"m","type":"nominal","sort":["Mononucleotides","Dinucleotides","Trinucleotides","Tetranucleotides","Pentanucleotides","Hexnucleotides"]},
      "y":{"field":"n","type":"quantitative","scale":{"domain":[0,80]},
        "axis":{"title":null,"values":[0,10,20,30,40,50,60,70,80],"ticks":false,"grid":true,"gridColor":"#d9d9d9","labelPadding":5,"minExtent":31,"maxExtent":31}},
      "color":{"field":"m","type":"nominal",
        "scale":{"domain":["Mononucleotides","Dinucleotides","Trinucleotides","Tetranucleotides","Pentanucleotides","Hexnucleotides"],"range":["#5B9BD5","#ED7D31","#A5A5A5","#FFC000","#70AD47","#E8262A"]},
        "legend":{"title":null,"orient":"none","legendX":498,"legendY":44,"symbolType":"square","symbolSize":45,"rowPadding":1,"labelFontSize":8.5}}
     }},
    {"data":{"name":"CT"},
     "mark":{"type":"line","strokeWidth":1.8,"point":{"filled":true,"size":35,"fill":"#2A4A7F"}},
     "encoding":{
      "x":{"field":"s","type":"nominal","sort":["G. pentaphyllum","G. longipes","G. pubescens","G. burmanicum","G. cardiospermum","G. caulopterum","G. laxiflorum","G. pentagynum"]},
      "y":{"field":"total","type":"quantitative"},
      "stroke":{"field":"series","type":"nominal","scale":{"domain":["Total"],"range":["#2A4A7F"]},
        "legend":{"title":null,"orient":"none","legendX":498,"legendY":134,"symbolType":"stroke","symbolSize":150,"symbolStrokeWidth":1.8,"labelFontSize":8.5}}
     }}
   ]
  },
  {"hconcat":[
   {"data":{"name":"D"},"width":286,"height":137,
    "title":{"text":"D","offset":-2},
    "layer":[
     {"mark":{"type":"bar","width":{"band":0.46}},
      "encoding":{
       "x":{"field":"k","type":"nominal","sort":["SSR|CDS","SSR|intron","SSR|IGS","Dispersed repeats|CDS","Dispersed repeats|intron","Dispersed repeats|IGS","Palindromic repeats|CDS","Palindromic repeats|intron","Palindromic repeats|IGS","Tandem Repeats|CDS","Tandem Repeats|intron","Tandem Repeats|IGS"],
         "scale":{"paddingInner":0,"paddingOuter":0},
         "axis":{"title":null,"labelExpr":"slice(datum.value, indexof(datum.value, '|') + 1)","labelAngle":0,"labelFontSize":8.5,"ticks":false,"labelPadding":5,"domainColor":"#d9d9d9"}},
       "y":{"field":"n","type":"quantitative","stack":"zero","scale":{"domain":[0,400]},
         "axis":{"title":null,"values":[0,50,100,150,200,250,300,350,400],"ticks":false,"labelFontSize":9,"labelPadding":5,"minExtent":30,"maxExtent":30}},
       "order":{"field":"o","type":"quantitative","sort":"ascending"},
       "color":{"field":"s","type":"nominal",
         "scale":{"domain":["G.pentaphyllnum","G.longipes","G.pubescens","G.burmanicum","G.cardiospermum","G.caulopterum","G.laxiflorum","G.pentagynum"],"range":["#5B9BD5","#ED7D31","#A5A5A5","#FFC000","#4472C4","#70AD47","#255E91","#9E480E"]},
         "legend":{"title":null,"values":["G.pentaphyllnum","G.pubescens","G.cardiospermum","G.laxiflorum","G.longipes","G.burmanicum","G.caulopterum","G.pentagynum"],"orient":"none","legendX":116,"legendY":10,"columns":2,"columnPadding":14,"rowPadding":3,"symbolType":"square","symbolSize":25,"labelFontStyle":"italic","labelFontSize":8}}
      }},
     {"mark":{"type":"point","opacity":0},
      "encoding":{
       "x":{"field":"g","type":"nominal","sort":["SSR","Dispersed repeats","Palindromic repeats","Tandem Repeats"],"scale":{"paddingInner":0,"paddingOuter":0},
         "axis":{"title":null,"orient":"bottom","offset":16,"domain":false,"ticks":false,"labelAngle":0,"labelFontSize":8.5,"labelPadding":2}}
      }}
    ],
    "resolve":{"scale":{"x":"independent"}}
   },
   {"data":{"name":"E"},"width":291,"height":139,
    "title":{"text":"E","offset":-2},
    "layer":[
     {"mark":{"type":"bar","width":{"band":0.42}},
      "encoding":{
       "x":{"field":"k","type":"nominal","sort":["SSR|LSC","SSR|IRb","SSR|SSC","SSR|IRa","Dispersed repeats|LSC","Dispersed repeats|IRb","Dispersed repeats|SSC","Dispersed repeats|IRa","Palindromic repeats|LSC","Palindromic repeats|IRb","Palindromic repeats|SSC","Palindromic repeats|IRa","Tandem Repeats|LSC","Tandem Repeats|IRb","Tandem Repeats|SSC","Tandem Repeats|IRa"],
         "scale":{"paddingInner":0,"paddingOuter":0},
         "axis":{"title":null,"labelExpr":"slice(datum.value, indexof(datum.value, '|') + 1)","labelAngle":0,"labelFontSize":8.5,"ticks":false,"labelPadding":5,"domainColor":"#d9d9d9"}},
       "y":{"field":"n","type":"quantitative","stack":"zero","scale":{"domain":[0,500]},
         "axis":{"title":null,"values":[0,50,100,150,200,250,300,350,400,450,500],"ticks":false,"labelFontSize":9,"labelPadding":4,"minExtent":23,"maxExtent":23}},
       "order":{"field":"o","type":"quantitative","sort":"ascending"},
       "color":{"field":"s","type":"nominal",
         "scale":{"domain":["G.pentaphyllnum","G.longipes","G.pubescens","G.burmanicum","G.cardiospermum","G.caulopterum","G.laxiflorum","G.pentagynum"],"range":["#5B9BD5","#ED7D31","#A5A5A5","#FFC000","#4472C4","#70AD47","#255E91","#9E480E"]},
         "legend":{"title":null,"values":["G.pentaphyllnum","G.pubescens","G.cardiospermum","G.laxiflorum","G.longipes","G.burmanicum","G.caulopterum","G.pentagynum"],"orient":"none","legendX":114,"legendY":25,"columns":2,"columnPadding":12,"rowPadding":1,"symbolType":"square","symbolSize":25,"labelFontStyle":"italic","labelFontSize":8.5}}
      }},
     {"mark":{"type":"point","opacity":0},
      "encoding":{
       "x":{"field":"g","type":"nominal","sort":["SSR","Dispersed repeats","Palindromic repeats","Tandem Repeats"],"scale":{"paddingInner":0,"paddingOuter":0},
         "axis":{"title":null,"orient":"bottom","offset":16,"domain":false,"ticks":false,"labelAngle":0,"labelFontSize":8.5,"labelPadding":2}}
      }}
    ],
    "resolve":{"scale":{"x":"independent"}}
   }
   ],
   "spacing":4,
   "resolve":{"scale":{"color":"independent"},"legend":{"color":"independent"}}
  }
 ],
 "spacing":8,
 "resolve":{"scale":{"color":"independent","xOffset":"independent","stroke":"independent"},"legend":{"color":"independent","stroke":"independent"}}
 }
],
"spacing":0,
"resolve":{"scale":{"color":"independent","xOffset":"independent","stroke":"independent"},"legend":{"color":"independent","stroke":"independent"}}
}
